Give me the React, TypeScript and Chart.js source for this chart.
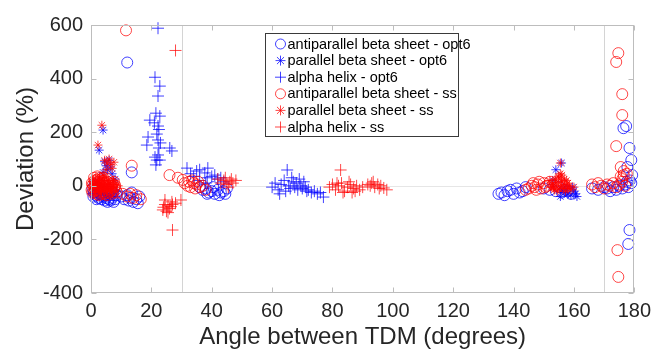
import React, { useEffect, useRef } from 'react';
import { Chart, registerables } from 'chart.js';
Chart.register(...registerables);

// [angle (degrees), deviation (%)]
const antiOpt6: [number, number][] = [
  [0.5, -10], [1, -25], [1.5, -35], [2, -20], [2.5, -45], [3, -30], [3.5, -50], [4, -40], [4.5, -55], [5, -45],
  [5.5, -60], [6, -50], [6.5, -55], [7, -45], [7.5, -60], [8, -50], [1.2, 5], [2.2, -5], [3.2, -15], [4.2, -25],
  [5.2, -20], [6.2, -30], [7.2, -25], [8.5, -35], [0.8, -40], [1.8, -50],
  [10, -40], [11, -50], [12, -35], [12.5, -55], [13, -45], [14, -60], [15, -50], [15.5, -65], [16, -40], [13.5, -25],
  [12, 460], [13.5, 50],
  [36, -5], [37, -15], [38, -10], [39, -25], [40, -20], [41, -30], [42, -15], [43, -25], [44, -20], [45, -10],
  [38.5, -30], [40.5, -5], [42.5, -35], [44.5, -30],
  [135, -30], [136, -25], [137, -35], [138, -20], [139, -15], [140, -30], [141, -10], [142, -25], [143, -20], [144, -5],
  [150, -10], [152, -15], [154, -20], [155, -5], [156, -25], [157, -15], [158, -20], [159, -30],
  [166, -10], [168, -15], [170, -5], [171, -10], [172, -20], [173, -5], [174, -15], [175, 0], [176, -10], [177, 5],
  [178, -5], [179, 10], [178.5, 20], [177.5, 15],
  [177.3, 223], [176.4, 215], [178.4, 141], [179, 96], [177.7, 70], [179.3, 40], [178.4, -165], [178, -217],
];

const parOpt6: [number, number][] = [
  [4, 208], [2.7, 133], [4.5, 90], [5, 75], [5.5, 60], [4, 50], [6, 95], [6.5, 70], [7, 45], [8, 25],
  [2, 10], [3, -5], [4, -20], [5, -30], [6, -40], [7, -35], [2.5, -25], [1, -15], [8.5, -20],
  [155.9, 85], [154, 60], [153, 20], [156, -15], [157, -25], [158, -30], [159, -35], [160, -20], [161, -40],
  [155.5, -40], [157.5, -10], [159.5, -5], [160.5, -30],
];

const alphaOpt6: [number, number][] = [
  [22.2, 588], [21.2, 405], [22.8, 372], [22.2, 335], [21.5, 271], [22.8, 260], [19.5, 245], [22.2, 223],
  [21.8, 193], [18.9, 182], [22.2, 171], [18.5, 152], [22.5, 141], [22.2, 115], [26.1, 141], [26.8, 130],
  [22.8, 96], [21.8, 96], [21.5, 78], [21.2, 107], [22.5, 210], [21, 235], [23, 160],
  [0.5, -30], [2, -45], [4, -50], [6, -55], [7.5, -40],
  [31.8, 66], [33, 45], [35, 55], [36, 60], [37.7, 48], [38.5, 30], [38.7, 66], [40, 35], [41, 40], [42, 25],
  [43, 30], [44, 15], [36, 20], [38, 10], [34, 35],
  [60, -5], [61, 10], [62, -15], [63, 5], [64, 20], [65, 59], [65.5, 0], [66, -10], [67, 15], [67.5, -5],
  [68, 10], [68.5, -15], [69, 25], [69.5, 0], [70, -10], [71, -5], [71.5, -20], [72, -15], [73, -25], [74, -20],
  [75, -30], [76, -25], [77, -42], [62.5, -30], [64.5, -20], [66.5, 30], [70.5, 15],
];

const antiSs: [number, number][] = [
  [0.3, 10], [0.8, -5], [1.2, 20], [1.5, 0], [2, -15], [2.3, 15], [2.8, 5], [3, -10], [3.4, 25], [3.8, -5],
  [4.2, 10], [4.6, -20], [5, 0], [5.4, 15], [5.8, -10], [6.2, 5], [6.6, -15], [7, 0], [7.4, -25], [7.8, -5],
  [0.5, -25], [1.7, -30], [2.6, -35], [3.6, -25], [4.4, -30], [5.2, -35], [6, -25], [6.8, -30], [8.2, -15],
  [1, 30], [2.1, 35], [4, 30], [5.6, 25], [0.2, -15], [8.6, -25],
  [0.6, 5], [1.4, -15], [2.4, -5], [3.2, 8], [4.0, -12], [4.8, 12], [5.6, -2], [6.4, -20], [7.2, 8], [8.0, 2],
  [1.1, -20], [1.9, 22], [2.9, -22], [3.9, 18], [4.9, -28], [5.9, 12], [6.9, -8], [7.6, 15], [2.5, 28], [3.3, -30],
  [10.5, -30], [12, -40], [13, -30], [14, -45], [15, -35], [16.5, -50],
  [11.6, 580], [13.5, 75],
  [26, 40], [28.8, 30], [30.4, 22], [31, 10], [32, 0], [32.5, 15], [33, -5], [34, 10], [34.5, -10], [35, 5],
  [36, -5], [37, 0], [38, -15], [33.5, 20], [35.5, 15],
  [144, -15], [145, -10], [146, 0], [147, -5], [148, 5], [149, -10], [150, 10], [151, 0], [152, 15], [150.5, -5],
  [148.5, 15], [147.5, -15], [146.5, 10], [153, 5],
  [166, 5], [167, -5], [168, 10], [169, 0], [170, -10], [171, 5], [172, 0], [173, 10], [174, -5], [175, 5],
  [176, 15], [177, 0], [175.5, 35], [176.5, 40], [177.5, 45], [176, 25], [175.5, 70], [176.5, 55],
  [174.7, 495], [174, 462], [176, 342], [176, 264], [174, 148], [174.4, -240], [174.7, -340],
];

const parSs: [number, number][] = [
  [3.6, 226], [2.3, 152], [4.5, 95], [5.3, 85], [6, 100], [6.5, 80], [5, 60], [4, 40], [7, 65], [7.6, 88],
  [3, 20], [2, 5], [1, -5], [4, 0], [5, -10], [6, 10], [3.5, -20], [7, -10], [8, 5],
  [0.5, 15], [1.5, 25], [2.5, -10], [3.5, 10], [4.5, 25], [5.5, 5], [6.5, -15], [7.5, 20], [1.2, -25], [2.8, 30],
  [152, 20], [153, 10], [154, 0], [155, 30], [156, 15], [157, 5], [158, -10], [153.5, -15], [154.5, -20],
  [155.5, -5], [156.5, -10], [157.5, 20], [152.5, -5], [158.5, 0], [159, -15], [155.5, 85], [155.5, 45],
  [156, 40], [160, -5],
  [152.8, 5], [153.8, 25], [154.2, 12], [155, -12], [156, 0], [156.8, 25], [157.2, -20], [158, 10], [154.8, 35],
  [153.2, -8], [155.8, 18], [157.8, -5],
];

const alphaSs: [number, number][] = [
  [28, 505], [27, -165],
  [24.5, -53], [26.8, -60], [25.5, -75], [24, -80], [23.8, -90], [25, -95], [26, -85], [27, -70], [28, -65],
  [29.8, -53], [25.5, -100], [24.5, -70], [26.5, -78],
  [0.5, 0], [1.5, -10], [2.5, 10], [3.5, -5], [4.5, 5], [5.5, -15], [6.5, -5], [7.5, 10], [8.5, 0], [1, 15],
  [3, -20], [5, 20], [7, -20],
  [42, 25], [43, 10], [44, 20], [45, 5], [46, 15], [47, 10], [48, 20], [44.5, 30], [45.5, -5], [46.5, 25],
  [79, -5], [80, 5], [81, -15], [82, 0], [82.7, 59], [83, 10], [84, -20], [85, -5], [86, 5], [86.5, -25],
  [87, -10], [88, 0], [89, -15], [90, -5], [83.5, -25], [85.5, 15], [87.5, -20], [81.5, 10],
  [91.7, 5], [92.5, 0], [93, 10], [94, -5], [95, 5], [95.5, -10], [96, 0], [97, -8], [98, -15], [93.5, 15],
];

const seriesLabels = [
  'antiparallel beta sheet - opt6',
  'parallel beta sheet - opt6',
  'alpha helix - opt6',
  'antiparallel beta sheet - ss',
  'parallel beta sheet - ss',
  'alpha helix - ss',
];
const seriesData = [antiOpt6, parOpt6, alphaOpt6, antiSs, parSs, alphaSs];
const seriesStyles = ['circle', 'star', 'cross', 'circle', 'star', 'cross'];
const BLUE = 'rgba(0,0,255,0.75)';
const RED = 'rgba(255,0,0,0.72)';
const seriesColors = [BLUE, BLUE, BLUE, RED, RED, RED];
const seriesRadius = [5.5, 4.5, 6, 5.5, 4.5, 6];

const xMin = 0, xMax = 180, xStep = 20;
const yMin = -400, yMax = 600, yStep = 200;
const refXLines = [30, 170];
const refYLines = [0];

const FONT = '"Liberation Sans", Arial, sans-serif';
const TEXT = '#262626';

function drawMarker(ctx: CanvasRenderingContext2D, style: string, x: number, y: number, r: number, color: string) {
  ctx.save();
  ctx.strokeStyle = color;
  ctx.lineWidth = 1;
  ctx.beginPath();
  if (style === 'circle') {
    ctx.arc(x, y, r, 0, Math.PI * 2);
  } else if (style === 'cross') {
    ctx.moveTo(x - r, y); ctx.lineTo(x + r, y);
    ctx.moveTo(x, y - r); ctx.lineTo(x, y + r);
  } else {
    const d = r * Math.SQRT1_2;
    ctx.moveTo(x - r, y); ctx.lineTo(x + r, y);
    ctx.moveTo(x, y - r); ctx.lineTo(x, y + r);
    ctx.moveTo(x - d, y - d); ctx.lineTo(x + d, y + d);
    ctx.moveTo(x - d, y + d); ctx.lineTo(x + d, y - d);
  }
  ctx.stroke();
  ctx.restore();
}

const refLinesPlugin = {
  id: 'refLines',
  beforeDatasetsDraw(chart: any) {
    const { ctx, chartArea: a, scales } = chart;
    ctx.save();
    ctx.lineWidth = 1;
    ctx.strokeStyle = '#d4d4d4';
    refXLines.forEach((v) => {
      const px = Math.round(scales.x.getPixelForValue(v)) + 0.5;
      ctx.beginPath(); ctx.moveTo(px, a.top); ctx.lineTo(px, a.bottom); ctx.stroke();
    });
    ctx.strokeStyle = '#e6e6e6';
    refYLines.forEach((v) => {
      const py = Math.round(scales.y.getPixelForValue(v)) + 0.5;
      ctx.beginPath(); ctx.moveTo(a.left, py); ctx.lineTo(a.right, py); ctx.stroke();
    });
    ctx.restore();
  },
};

const framePlugin = {
  id: 'frame',
  afterDatasetsDraw(chart: any) {
    const { ctx, chartArea: a, scales } = chart;
    ctx.save();
    ctx.strokeStyle = '#bdbdbd';
    ctx.lineWidth = 1;
    const L = Math.round(a.left) + 0.5, R = Math.round(a.right) - 0.5;
    const T = Math.round(a.top) + 0.5, B = Math.round(a.bottom) - 0.5;
    ctx.strokeRect(L, T, R - L, B - T);
    const tl = 5;
    ctx.beginPath();
    for (let v = xMin; v <= xMax; v += xStep) {
      const px = Math.round(scales.x.getPixelForValue(v)) + 0.5;
      ctx.moveTo(px, B); ctx.lineTo(px, B - tl);
      ctx.moveTo(px, T); ctx.lineTo(px, T + tl);
    }
    for (let v = yMin; v <= yMax; v += yStep) {
      const py = Math.round(scales.y.getPixelForValue(v)) + 0.5;
      ctx.moveTo(L, py); ctx.lineTo(L + tl, py);
      ctx.moveTo(R, py); ctx.lineTo(R - tl, py);
    }
    ctx.stroke();
    ctx.restore();
  },
};

const legendPlugin = {
  id: 'boxLegend',
  afterDraw(chart: any) {
    const { ctx } = chart;
    const bx = 265.5, by = 33.5, bw = 193, bh = 103;
    ctx.save();
    ctx.fillStyle = '#ffffff';
    ctx.fillRect(bx, by, bw, bh);
    ctx.strokeStyle = '#3a3a3a';
    ctx.lineWidth = 1;
    ctx.strokeRect(bx, by, bw, bh);
    ctx.font = '14.5px ' + FONT;
    ctx.textBaseline = 'middle';
    chart.data.datasets.forEach((ds: any, i: number) => {
      const y = by + 10.5 + i * 16.6;
      drawMarker(ctx, seriesStyles[i], 280.5, y, seriesStyles[i] === 'cross' ? 5.5 : 5, seriesColors[i]);
      ctx.fillStyle = '#000000';
      ctx.fillText(ds.label, 287.5, y + 0.5);
    });
    ctx.restore();
  },
};

export default function App() {
  const ref = useRef<HTMLCanvasElement>(null);
  useEffect(() => {
    const datasets = seriesData.map((d, i) => ({
      label: seriesLabels[i],
      data: d.map(([x, y]) => ({ x, y })),
      pointStyle: seriesStyles[i] as any,
      pointRadius: seriesRadius[i],
      pointHoverRadius: seriesRadius[i],
      borderColor: seriesColors[i],
      backgroundColor: 'rgba(0,0,0,0)',
      pointBorderWidth: 1,
      borderWidth: 1,
      order: 6 - i,
      clip: false as any,
    }));
    const chart = new Chart(ref.current!, {
      type: 'scatter',
      data: { datasets },
      plugins: [refLinesPlugin, framePlugin, legendPlugin],
      options: {
        animation: false,
        responsive: false,
        events: [],
        layout: { padding: { top: 25, right: 22, left: 0, bottom: 0 } },
        plugins: { legend: { display: false }, tooltip: { enabled: false } },
        scales: {
          x: {
            type: 'linear',
            min: xMin,
            max: xMax,
            afterFit: (s: any) => { s.height = 59; },
            grid: { display: false, drawTicks: false },
            border: { display: false },
            ticks: { stepSize: xStep, color: TEXT, font: { family: FONT, size: 20 }, padding: 6, maxRotation: 0 },
            title: { display: true, text: 'Angle between TDM (degrees)', color: TEXT, font: { family: FONT, size: 24 }, padding: 0 },
          },
          y: {
            type: 'linear',
            min: yMin,
            max: yMax,
            afterFit: (s: any) => { s.width = 91; },
            grid: { display: false, drawTicks: false },
            border: { display: false },
            ticks: { stepSize: yStep, color: TEXT, font: { family: FONT, size: 20 }, padding: 8 },
            title: { display: true, text: 'Deviation (%)', color: TEXT, font: { family: FONT, size: 24 }, padding: { top: 12, bottom: 12 } },
          },
        },
      },
    });
    return () => chart.destroy();
  }, []);
  return (
    <div style={{ position: 'fixed', left: 0, top: 0, width: 657, height: 352, background: '#fff' }}>
      <canvas ref={ref} width={657} height={352} style={{ display: 'block' }} />
    </div>
  );
}
